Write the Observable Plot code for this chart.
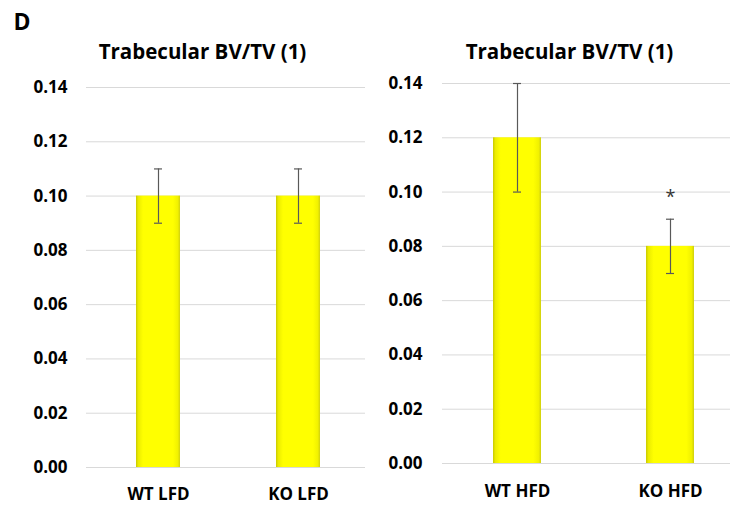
<!DOCTYPE html>
<html>
<head>
<meta charset="utf-8">
<script src="https://cdn.jsdelivr.net/npm/d3@7"></script>
<script src="https://cdn.jsdelivr.net/npm/@observablehq/plot@0.6"></script>
<style>
  html, body { margin: 0; padding: 0; background: #fff; }
  #fig { position: relative; width: 730px; height: 508px; overflow: hidden; }
  #fig > div { position: absolute; top: 0; }
</style>
</head>
<body>
<div id="fig"><div id="left" style="left:0"></div><div id="right" style="left:365px"></div></div>
<script>
// Trabecular bone volume fraction (BV/TV), mean ± error, per genotype and diet
const panelLabel = "D";
const chartTitle = "Trabecular BV/TV (1)";
const lfdGroups = ["WT LFD", "KO LFD"];
const lfdMeans = [0.10, 0.10];
const lfdErrors = [0.01, 0.01];
const lfdMarks = ["", ""];
const hfdGroups = ["WT HFD", "KO HFD"];
const hfdMeans = [0.12, 0.08];
const hfdErrors = [0.02, 0.01];
const hfdMarks = ["", "*"];
const yTicks = [0, 0.02, 0.04, 0.06, 0.08, 0.10, 0.12, 0.14];

const errColor = "#595959";

function addGradient(svg, id) {
  const defs = d3.select(svg).insert("defs", ":first-child");
  const g = defs.append("linearGradient").attr("id", id)
    .attr("x1", "0").attr("x2", "1").attr("y1", "0").attr("y2", "0");
  [["0%", "#c9c900"], ["5%", "#ecec00"], ["16%", "#ffff00"],
   ["84%", "#ffff00"], ["95%", "#f1f100"], ["100%", "#cfcf10"]]
    .forEach(([o, c]) => g.append("stop").attr("offset", o).attr("stop-color", c));
}

function panel(opts) {
  const data = opts.groups.map((g, i) => ({
    group: g, mean: opts.means[i], err: opts.errors[i], mark: opts.marks[i]
  }));
  const capInset = opts.capInset;
  const marks = [
    Plot.gridY(yTicks, {stroke: "#d9d9d9", strokeOpacity: 1, strokeWidth: 1}),
    Plot.barY(data, {x: "group", y: "mean", fill: `url(#${opts.gradId})`}),
    Plot.ruleX(data, {x: "group", y1: d => d.mean - d.err, y2: d => d.mean + d.err, stroke: errColor, strokeWidth: 1.2}),
    Plot.tickY(data, {x: "group", y: d => d.mean + d.err, stroke: errColor, strokeWidth: 1.2, insetLeft: capInset, insetRight: capInset}),
    Plot.tickY(data, {x: "group", y: d => d.mean - d.err, stroke: errColor, strokeWidth: 1.2, insetLeft: capInset, insetRight: capInset}),
    Plot.text(data, {x: "group", y: d => d.mean + d.err, text: "mark", dy: -22, fontSize: 18, fontWeight: 400, fill: "#333"}),
    Plot.axisY(yTicks, {tickSize: 0, tickPadding: opts.yPad, tickFormat: d3.format(".2f"), label: null, fontSize: 17, fontWeight: 700}),
    Plot.axisX({tickSize: 0, tickPadding: opts.xPad, label: null, fontSize: 17, fontWeight: 700}),
    Plot.text([chartTitle], {frameAnchor: "top-left", dx: opts.titleDx, dy: opts.titleDy, lineAnchor: "bottom", textAnchor: "middle", fontSize: 20.5, fontWeight: 700})
  ];
  if (opts.label) {
    marks.push(Plot.text([opts.label], {frameAnchor: "top-left", dx: opts.labelDx, dy: opts.labelDy, lineAnchor: "bottom", textAnchor: "start", fontSize: 23, fontWeight: 700}));
  }
  const chart = Plot.plot({
    width: 365, height: 508,
    marginLeft: opts.marginLeft, marginRight: 0,
    marginTop: opts.marginTop, marginBottom: opts.marginBottom,
    style: {fontFamily: "'Open Sans', sans-serif", color: "#000", background: "transparent", overflow: "visible"},
    x: {domain: opts.groups, range: opts.xRange, paddingInner: opts.paddingInner, paddingOuter: opts.paddingOuter, axis: null},
    y: {domain: [0, 0.14], axis: null},
    marks
  });
  addGradient(chart, opts.gradId);
  return chart;
}

document.getElementById("left").appendChild(panel({
  groups: lfdGroups, means: lfdMeans, errors: lfdErrors, marks: lfdMarks,
  marginLeft: 86, marginTop: 87, marginBottom: 41,
  xRange: [86, 370], paddingInner: 0.689, paddingOuter: 0.357, capInset: 18,
  yPad: 19, xPad: 20, titleDx: 116, titleDy: -29, gradId: "barFillL",
  label: panelLabel, labelDx: -73, labelDy: -58
}));
document.getElementById("right").appendChild(panel({
  groups: hfdGroups, means: hfdMeans, errors: hfdErrors, marks: hfdMarks,
  marginLeft: 77, marginTop: 83, marginBottom: 45,
  xRange: [77, 381], paddingInner: 0.685, paddingOuter: 0.331, capInset: 20,
  yPad: 20, xPad: 21, titleDx: 127, titleDy: -25, gradId: "barFillR"
}));
</script>
</body>
</html>
